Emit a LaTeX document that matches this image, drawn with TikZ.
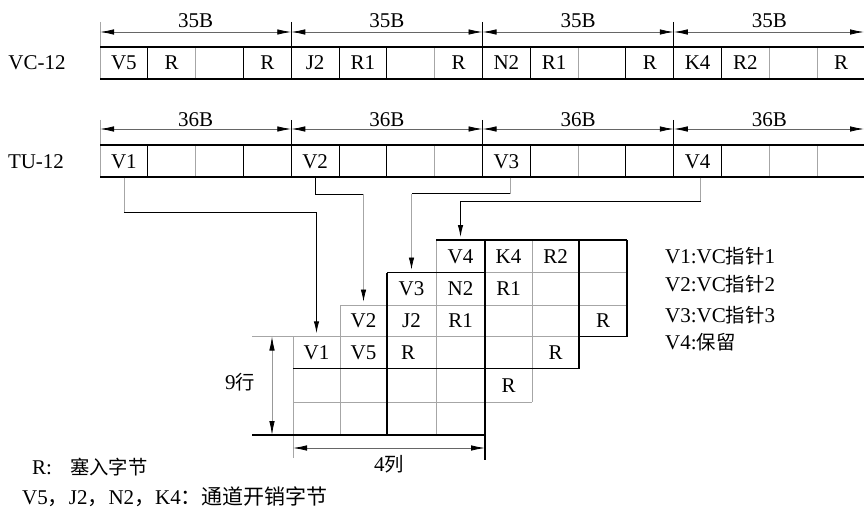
\documentclass[tikz,border=0pt]{standalone}
\usepackage{fontspec}
\setmainfont{Liberation Serif}
\newfontfamily\cjk{Noto Sans CJK SC}[Scale=0.92]
\newfontfamily\cjkb{Noto Sans CJK SC}[Scale=1.0]
\usetikzlibrary{arrows.meta}
\begin{document}
\begin{tikzpicture}[x=1pt,y=-1pt,
  every node/.style={font=\fontsize{21}{24}\selectfont, text=black},
  blk/.style={line width=1.1pt, black},
  blkc/.style={line width=1pt, black},
  gry/.style={line width=0.7pt, black!35},
  cellnode/.style={minimum width=47.8pt, minimum height=32pt, inner sep=0pt},
  gcell/.style={minimum width=47pt, minimum height=32pt, inner sep=0pt},
  dimline/.style={line width=0.8pt, black!60, {Latex[length=14pt,width=5.5pt,color=black]}-{Latex[length=14pt,width=5.5pt,color=black]}},
  tip/.style={-{Latex[length=12pt,width=5.5pt,color=black]}, shorten >=3pt},
  lbl/.style={anchor=west, inner sep=0pt}
]
\fill[white] (0,0) rectangle (864,516);
\useasboundingbox (0,0) rectangle (864,516);

% ---------- VC-12 and TU-12 rows ----------
\foreach \y/\e in {47/22, 145/120}{
  \foreach \i in {2,7,10,14,15} \draw[gry] ({100+47.8125*\i},\y) -- ++(0,32);
  \draw[gry] (100,\e) -- (100,\y+32);
  \draw[blk] (100,\y) -- (864,\y) (100,\y+32) -- (864,\y+32);
  \foreach \i in {1,3,5,6,9,11,13} \draw[blk] ({100+47.8125*\i},\y) -- ++(0,32);
  \foreach \i in {4,8,12} \draw[blk] ({100+47.8125*\i},\e) -- (({100+47.8125*\i},\y+32);
}
% dimension lines
\foreach \g in {0,1,2}{
  \coordinate (da\g) at ({100+191.25*\g},32);
  \coordinate (db\g) at ({100+191.25*(\g+1)},32);
  \draw[dimline] (da\g) -- (db\g);
  \coordinate (ta\g) at ({100+191.25*\g},129);
  \coordinate (tb\g) at ({100+191.25*(\g+1)},129);
  \draw[dimline] (ta\g) -- (tb\g);
}
\coordinate (da3) at (673.75,32); \coordinate (db3) at (864,32);
\draw[dimline] (da3) -- (db3);
\coordinate (ta3) at (673.75,129); \coordinate (tb3) at (864,129);
\draw[dimline] (ta3) -- (tb3);
\foreach \g in {0,1,2,3}{
  \node[anchor=base, inner sep=0pt] (lv\g) at ({100+191.25*\g+95.6},28) {35B};
  \node[anchor=base, inner sep=0pt] (lt\g) at ({100+191.25*\g+95.6},126) {36B};
}
\node (vclabel) at (37,63) {VC-12};
\node (tulabel) at (36,162) {TU-12};

\foreach \t [count=\i from 0] in {V5,R,{},R,J2,R1,{},R,N2,R1,{},R,K4,R2,{},R}
  \node[cellnode] (vc\i) at ({100+47.8125*\i+23.9},63) {\t};
\foreach \t [count=\i from 0] in {V1,{},{},{},V2,{},{},{},V3,{},{},{},V4,{},{},{}}
  \node[cellnode] (tu\i) at ({100+47.8125*\i+23.9},161.5) {\t};

% ---------- grid ----------
% gray lines
\draw[gry] (436,240) -- (627,240);
\draw[gry] (387,272.5) -- (627,272.5);
\draw[gry] (340,305) -- (627,305);
\draw[gry] (252,336.5) -- (627,336.5);
\draw[gry] (293,368.5) -- (579,368.5);
\draw[gry] (293,402) -- (532,402);
\draw[gry] (293,336.5) -- (293,458);
\draw[gry] (340,305) -- (340,435);
\draw[gry] (436,240) -- (436,435);
\draw[gry] (532,240) -- (532,402);
% black lines
\draw[blk] (387,272.5) -- (387,435);
\draw[blk] (485,240) -- (485,460);
\draw[blk] (579,240) -- (579,368.5);
\draw[blk] (627,240) -- (627,336.5);
\draw[blk] (436,240) -- (627,240);
\draw[blk] (387,272.5) -- (485,272.5);
\draw[blk] (293,368.5) -- (579,368.5);
\draw[blk] (579,336.5) -- (627,336.5);
\draw[blk] (252,435) -- (485,435);

% grid texts
\node[gcell] (gV4) at (460.5,256.25) {V4};
\node[gcell] (gK4) at (508.5,256.25) {K4};
\node[gcell] (gR2) at (555.5,256.25) {R2};
\node[gcell] (gV3) at (411.5,288.75) {V3};
\node[gcell] (gN2) at (460.5,288.75) {N2};
\node[gcell] (gR1a) at (508.5,288.75) {R1};
\node[gcell] (gV2) at (363.5,320.75) {V2};
\node[gcell] (gJ2) at (411.5,320.75) {J2};
\node[gcell] (gR1b) at (460.5,320.75) {R1};
\node[gcell] (gRa) at (603,320.75) {R};
\node[gcell] (gV1) at (316.5,352.5) {V1};
\node[gcell] (gV5) at (363.5,352.5) {V5};
\node[gcell] (gRb) at (408,352.5) {R};
\node[gcell] (gRc) at (555.5,352.5) {R};
\node[gcell] (gRd) at (508.5,385.25) {R};

% ---------- connectors ----------
\path (tu0.south) ++(0,34.5) coordinate (k1);
\draw[gry] (tu0.south) -- (k1);
\draw[blkc,tip] (k1) -| (gV1.north);

\path (tu4.south) ++(0,16.5) coordinate (k2);
\draw[blkc] (tu4.south) -- (k2) -- (k2 -| gV2.north);
\draw[gry,tip] (k2 -| gV2.north) -- (gV2.north);

\path ([xshift=4pt]tu8.south) coordinate (s3) ++(0,16) coordinate (k3);
\draw[gry] (s3) -- (k3);
\draw[blkc] (k3) -- (k3 -| gV3.north);
\draw[gry,tip] (k3 -| gV3.north) -- (gV3.north);

\path ([xshift=3pt]tu12.south) coordinate (s4) ++(0,24) coordinate (k4);
\draw[gry] (s4) -- (k4);
\draw[blkc,tip] (k4) -| (gV4.north);

% ---------- dimensions on grid ----------
\coordinate (d9a) at (272,336.5); \coordinate (d9b) at (272,435);
\draw[dimline, black!40] (d9a) -- (d9b);
\node (rows) at (240,382) {9{\cjk 行}};
\coordinate (d4a) at (293,448); \coordinate (d4b) at (485,448);
\draw[dimline] (d4a) -- (d4b);
\node (cols) at (389,464) {4{\cjk 列}};

% ---------- legends ----------
\node[lbl] (lg1) at (665,256) {V1:VC{\cjk 指针}1};
\node[lbl] (lg2) at (665,284) {V2:VC{\cjk 指针}2};
\node[lbl] (lg3) at (665,315) {V3:VC{\cjk 指针}3};
\node[lbl] (lg4) at (665,342) {V4:{\cjk 保留}};

\node[lbl] (nr) at (32,467) {R:\hspace{18pt}{\cjk 塞入字节}};
\node[lbl] (nv) at (22,497) {V5{\cjkb ，}J2{\cjkb ，}N2{\cjkb ，}K4{\cjkb ：}{\cjkb 通道开销字节}};
\end{tikzpicture}
\end{document}
